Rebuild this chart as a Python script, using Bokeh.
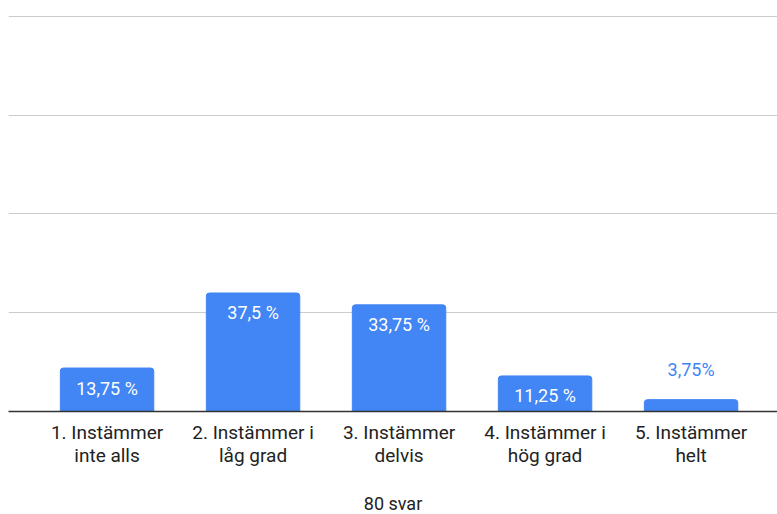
from bokeh.plotting import figure
from bokeh.models import Range1d, FixedTicker
from bokeh.core.properties import value
from bokeh.embed import file_html
from bokeh.resources import INLINE

categories = ["1. Instämmer\ninte alls", "2. Instämmer i\nlåg grad", "3. Instämmer\ndelvis",
              "4. Instämmer i\nhög grad", "5. Instämmer\nhelt"]
percent = [13.75, 37.5, 33.75, 11.25, 3.75]
total = 80
labels = ["13,75 %", "37,5 %", "33,75 %", "11,25 %", "3,75%"]
inside = [True, True, True, True, False]
grid_ticks = [25, 50, 75, 100]

counts = [p_ * total / 100 for p_ in percent]
xs = list(range(1, len(categories) + 1))

BLUE = "#4285F4"
FONT = "Roboto"

p = figure(width=777, height=514, output_backend="svg", toolbar_location=None,
           x_range=Range1d(0.325, 5.592), y_range=Range1d(0, 101),
           min_border_left=8, min_border_right=0, min_border_top=12, min_border_bottom=103)
p.frame_width = 769
p.frame_height = 399
p.outline_line_color = None
p.background_fill_color = "white"
p.border_fill_color = "white"

p.vbar(x=xs, top=counts, width=0.64, color=BLUE, border_radius=(3, 3, 0, 0))

in_x = [x for x, f in zip(xs, inside) if f]
in_y = [c for c, f in zip(counts, inside) if f]
in_t = [t for t, f in zip(labels, inside) if f]
out_x = [x for x, f in zip(xs, inside) if not f]
out_y = [c for c, f in zip(counts, inside) if not f]
out_t = [t for t, f in zip(labels, inside) if not f]

p.text(x=in_x, y=in_y, text=in_t, text_color="white", text_font=value(FONT),
       text_font_size="18px", text_align="center", text_baseline="middle", y_offset=20)
p.text(x=out_x, y=out_y, text=out_t, text_color=BLUE, text_font=value(FONT),
       text_font_size="18px", text_align="center", text_baseline="middle", y_offset=-30)

p.yaxis.visible = False
p.ygrid.ticker = FixedTicker(ticks=grid_ticks)
p.ygrid.grid_line_color = "#cccccc"
p.ygrid.grid_line_width = 1
p.xgrid.visible = False

ax = p.xaxis[0]
ax.ticker = FixedTicker(ticks=xs)
ax.major_label_overrides = {x: c for x, c in zip(xs, categories)}
ax.major_tick_line_color = None
ax.minor_tick_line_color = None
ax.axis_line_color = "#333333"
ax.axis_line_width = 1.5
ax.major_label_text_font = FONT
ax.major_label_text_font_size = "19px"
ax.major_label_text_line_height = 1.0
ax.major_label_text_color = "#222222"
ax.major_label_standoff = 3
ax.axis_label = "80 svar"
ax.axis_label_text_font = FONT
ax.axis_label_text_font_size = "18px"
ax.axis_label_text_font_style = "normal"
ax.axis_label_text_color = "#222222"
ax.axis_label_standoff = 23

open("out.html", "w").write(file_html(p, INLINE))
